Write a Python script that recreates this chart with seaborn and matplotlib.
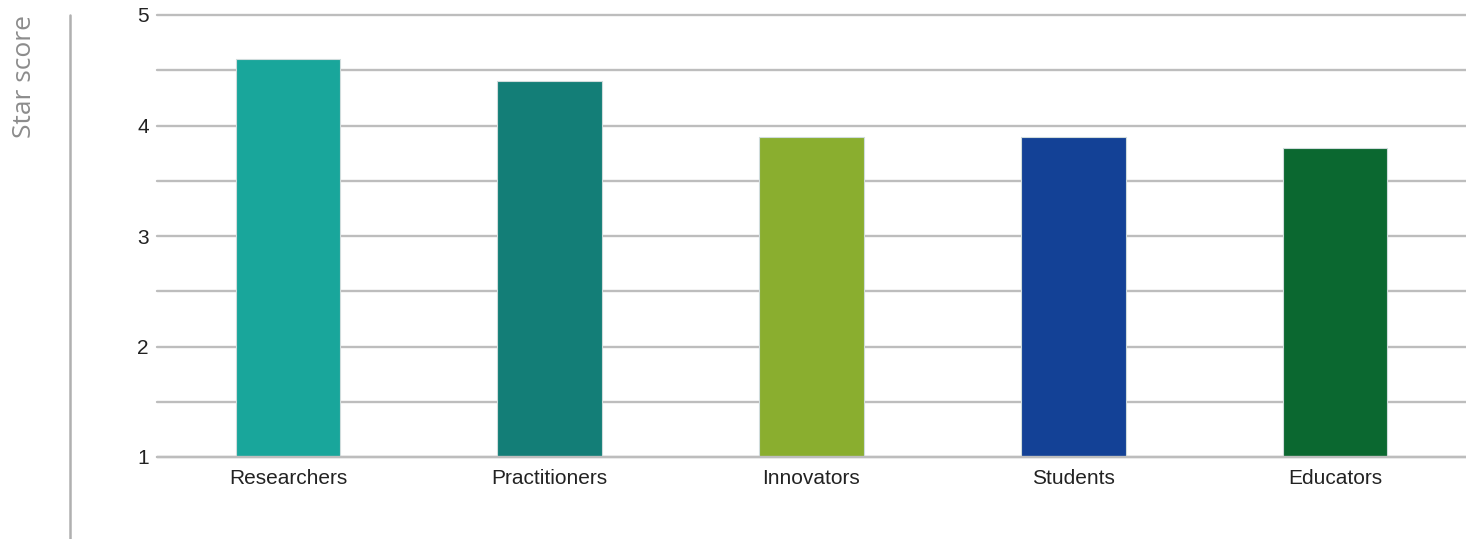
import matplotlib
matplotlib.use("Agg")
import matplotlib.pyplot as plt
import seaborn as sns
import pandas as pd
from matplotlib.lines import Line2D

categories = ["Researchers", "Practitioners", "Innovators", "Students", "Educators"]
scores = [4.6, 4.4, 3.9, 3.9, 3.8]
colors = ["#19A69B", "#137E77", "#8AAE2F", "#134196", "#0B6830"]
yticks = [1, 2, 3, 4, 5]

sns.set_theme(style="white")
plt.rcParams['font.family'] = ['Liberation Sans', 'DejaVu Sans']

df = pd.DataFrame({"group": categories, "score": scores})

fig = plt.figure(figsize=(14.66, 5.39), dpi=100)
ax = fig.add_axes([157/1466, 1 - 457/539, 1 - 157/1466, (457 - 15)/539])

for y in [1, 1.5, 2, 2.5, 3, 3.5, 4, 4.5, 5]:
    ax.axhline(y, color="#bdbdbd", lw=1.7, zorder=0, clip_on=False)

sns.barplot(data=df, x="group", y="score", hue="group", palette=colors,
            legend=False, width=0.4, ax=ax, edgecolor="#d0dcdc", linewidth=0.8,
            saturation=1, zorder=2)
ax.axhline(1, color="#bdbdbd", lw=1.7, zorder=3, clip_on=False)

ax.set_ylim(1, 5)
ax.set_xlim(-0.5, 4.5)
ax.set_yticks(yticks)
ax.set_yticklabels([str(t) for t in yticks])
ax.set_xlabel("")
ax.set_ylabel("")
ax.tick_params(axis="both", length=0, labelsize=15, labelcolor="#222222")
ax.tick_params(axis="y", pad=6)
ax.tick_params(axis="x", pad=9)
for s in ax.spines.values():
    s.set_visible(False)

fig.add_artist(Line2D([70/1466, 70/1466], [0, 1 - 15/539], color="#b0b0b0", lw=1.8))
fig.text(25/1466, 1 - 15/539, "Star score", rotation=90, ha="center", va="top",
         fontsize=19, color="#8c8c8c", family=["Open Sans", "DejaVu Sans"])

fig.savefig("out.png", dpi=100)
